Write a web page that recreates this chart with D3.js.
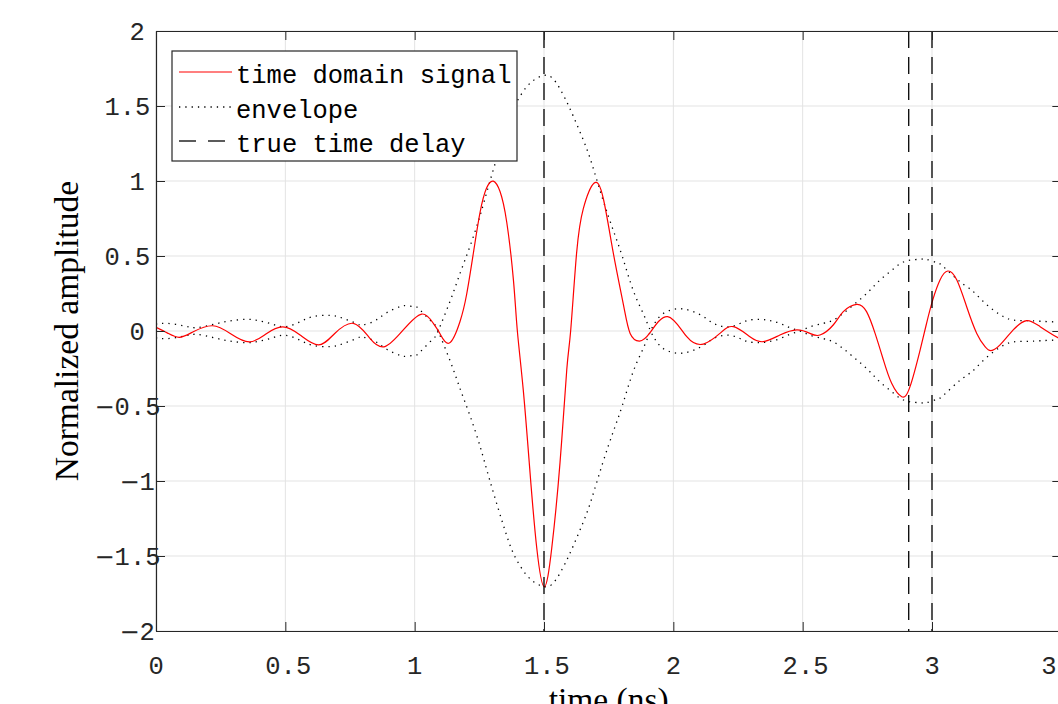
<!DOCTYPE html>
<html><head><meta charset="utf-8">
<script src="https://cdn.jsdelivr.net/npm/d3@7"></script>
<style>body{margin:0;background:#fff;} svg{display:block;}</style>
</head><body>
<svg id="chart" width="1058" height="704"></svg>
<script>
// ---- data ----
const signalT = [0,0.045,0.09,0.144,0.219,0.29,0.361,0.425,0.49,0.557,0.628,0.69,0.763,0.827,0.885,0.956,1.027,1.072,1.098,1.134,1.175,1.201,1.227,1.253,1.278,1.304,1.33,1.356,1.382,1.397,1.42,1.446,1.472,1.501,1.53,1.562,1.588,1.603,1.626,1.652,1.693,1.729,1.768,1.807,1.833,1.869,1.91,1.978,2.052,2.116,2.18,2.232,2.296,2.348,2.412,2.477,2.528,2.567,2.618,2.657,2.709,2.747,2.78,2.812,2.844,2.883,2.915,2.954,2.979,3.003,3.031,3.061,3.096,3.134,3.173,3.205,3.228,3.263,3.314,3.366,3.418,3.487,3.5];
const signalY = [0.025,-0.014,-0.042,-0.005,0.035,-0.02,-0.073,-0.02,0.027,-0.027,-0.093,-0.018,0.051,-0.049,-0.104,0.007,0.113,0.051,-0.018,-0.08,0.062,0.245,0.52,0.793,0.953,0.999,0.93,0.725,0.336,0.0,-0.396,-0.944,-1.447,-1.705,-1.447,-0.876,-0.258,0.0,0.519,0.816,0.985,0.885,0.519,0.176,-0.016,-0.067,-0.011,0.096,-0.038,-0.087,-0.016,0.029,-0.038,-0.071,-0.027,0.007,-0.016,-0.027,0.04,0.129,0.178,0.129,-0.016,-0.193,-0.349,-0.438,-0.371,-0.127,0.051,0.207,0.34,0.4,0.34,0.162,-0.016,-0.104,-0.131,-0.093,0.007,0.069,0.029,-0.045,-0.052];

const envelopeT = [0,0.041,0.106,0.157,0.222,0.286,0.351,0.402,0.453,0.5,0.557,0.608,0.673,0.724,0.776,0.8,0.847,0.892,0.943,0.969,1.001,1.021,1.072,1.091,1.137,1.175,1.214,1.253,1.291,1.356,1.394,1.433,1.472,1.504,1.53,1.56,1.59,1.613,1.652,1.684,1.727,1.768,1.804,1.845,1.884,1.912,1.936,1.962,2.0,2.039,2.077,2.116,2.155,2.2,2.245,2.284,2.335,2.374,2.412,2.451,2.49,2.53,2.58,2.619,2.657,2.696,2.734,2.767,2.799,2.838,2.876,2.915,2.954,2.979,3.018,3.044,3.108,3.153,3.192,3.237,3.276,3.314,3.366,3.418,3.487,3.5];
const envelopeY = [-0.046,-0.051,-0.035,-0.022,-0.044,-0.067,-0.078,-0.067,-0.044,-0.028,-0.062,-0.096,-0.104,-0.084,-0.049,-0.04,-0.069,-0.122,-0.162,-0.169,-0.162,-0.14,-0.051,0,0.199,0.382,0.565,0.77,0.999,1.365,1.525,1.628,1.685,1.705,1.69,1.62,1.52,1.433,1.273,1.12,0.88,0.67,0.49,0.27,0.115,0,-0.073,-0.118,-0.144,-0.147,-0.129,-0.096,-0.051,-0.028,-0.04,-0.069,-0.078,-0.069,-0.051,-0.022,0,0.029,0.051,0.073,0.118,0.173,0.229,0.284,0.34,0.396,0.447,0.473,0.478,0.478,0.456,0.429,0.329,0.273,0.207,0.14,0.096,0.073,0.069,0.065,0.06,0.06];

const delayTimes = [1.5, 2.91, 3.0];

const xTicks = [0,0.5,1,1.5,2,2.5,3,3.5];
const xTickLabels = ["0","0.5","1","1.5","2","2.5","3","3.5"];
const yTicks = [-2,-1.5,-1,-0.5,0,0.5,1,1.5,2];
const yTickLabels = ["−2","−1.5","−1","−0.5","0","0.5","1","1.5","2"];

const legendLabels = ["time domain signal","envelope","true time delay"];
const xLabel = "time (ns)";
const yLabel = "Normalized amplitude";

// ---- layout ----
const L = 156, T = 31, unitX = 776/3;
const R = L + 3.5*unitX, B = 631;
const axisColor = "#262626", gridColor = "#e3e3e3";
const monoFont = "'Liberation Mono','Courier New',monospace";
const serifFont = "'Liberation Serif','Times New Roman',serif";

const svg = d3.select("#chart");
const x = d3.scaleLinear().domain([0,3.5]).range([L,R]);
const y = d3.scaleLinear().domain([-2,2]).range([B,T]);

svg.append("defs").append("clipPath").attr("id","clip")
  .append("rect").attr("x",L).attr("y",T).attr("width",R-L).attr("height",B-T);

// grid
const grid = svg.append("g");
grid.selectAll("line.gx").data(xTicks).join("line")
  .attr("x1",d=>x(d)).attr("x2",d=>x(d)).attr("y1",T).attr("y2",B)
  .attr("stroke",gridColor).attr("stroke-width",1);
grid.selectAll("line.gy").data(yTicks).join("line")
  .attr("x1",L).attr("x2",R).attr("y1",d=>y(d)).attr("y2",d=>y(d))
  .attr("stroke",gridColor).attr("stroke-width",1);

const plot = svg.append("g").attr("clip-path","url(#clip)");

const envData = envelopeT.map((t,i)=>({t, v: envelopeY[i]}));
const sigData = signalT.map((t,i)=>({t, v: signalY[i]}));

const curve = d3.curveNatural;
const lineGen = d3.line().x(d=>x(d.t)).y(d=>y(d.v)).curve(curve);
const negGen = d3.line().x(d=>x(d.t)).y(d=>y(-d.v)).curve(curve);

const dotStyle = sel => sel.attr("fill","none").attr("stroke","#000")
  .attr("stroke-width",1.3).attr("stroke-dasharray","1.3,5");

plot.append("path").datum(envData).attr("d",lineGen).call(dotStyle);
plot.append("path").datum(envData).attr("d",negGen).call(dotStyle);

plot.append("path").datum(sigData).attr("d",lineGen)
  .attr("fill","none").attr("stroke","#ff0000").attr("stroke-width",1.2);

plot.selectAll("line.delay").data(delayTimes).join("line")
  .attr("x1",d=>x(d)).attr("x2",d=>x(d)).attr("y1",T).attr("y2",B)
  .attr("stroke","#000").attr("stroke-width",1.3).attr("stroke-dasharray","17,9");

// axes (inward ticks, box)
function styleAxis(g){
  g.selectAll("path").attr("stroke",axisColor).attr("stroke-width",1.2);
  g.selectAll("line").attr("stroke",axisColor).attr("stroke-width",1);
  g.selectAll("text").remove();
}
svg.append("g").attr("transform",`translate(0,${B})`)
  .call(d3.axisBottom(x).tickValues(xTicks).tickSizeInner(-9).tickSizeOuter(0)).call(styleAxis);
svg.append("g").attr("transform",`translate(0,${T})`)
  .call(d3.axisTop(x).tickValues(xTicks).tickSizeInner(-9).tickSizeOuter(0)).call(styleAxis);
svg.append("g").attr("transform",`translate(${L},0)`)
  .call(d3.axisLeft(y).tickValues(yTicks).tickSizeInner(-9).tickSizeOuter(0)).call(styleAxis);
svg.append("g").attr("transform",`translate(${R},0)`)
  .call(d3.axisRight(y).tickValues(yTicks).tickSizeInner(-9).tickSizeOuter(0)).call(styleAxis);

// tick labels (measured-width model like the original renderer)
const mw = s => Array.from(s).reduce((a,c)=>a+(c==="−"?10:12.5),0);
function addLabel(g, s, xStart, yBase){
  const t = g.append("text").attr("x",xStart).attr("y",yBase)
    .attr("font-family",monoFont).attr("font-size",25.5).attr("fill",axisColor);
  if (s.startsWith("−")) {
    t.append("tspan").attr("font-family","'DejaVu Sans',sans-serif").attr("font-size",24).text("−");
    t.append("tspan").attr("dx",0).text(s.slice(1));
  } else t.text(s);
}
const lab = svg.append("g");
xTicks.forEach((v,i)=>{
  const s = xTickLabels[i];
  addLabel(lab, s, x(v) - mw(s)/2 - 1.3, 674);
});
yTicks.forEach((v,i)=>{
  const s = yTickLabels[i];
  addLabel(lab, s, 142 - mw(s), y(v) + 9);
});

// axis titles
svg.append("text").attr("transform",`translate(78,${(T+B)/2}) rotate(-90)`)
  .attr("text-anchor","middle").attr("font-family",serifFont).attr("font-size",33.5)
  .attr("fill","#000").text(yLabel);
svg.append("text").attr("x",(L+R)/2).attr("y",711)
  .attr("text-anchor","middle").attr("font-family",serifFont).attr("font-size",33.5)
  .attr("fill","#000").text(xLabel);

// legend
const lg = svg.append("g");
lg.append("rect").attr("x",172).attr("y",51).attr("width",345).attr("height",110)
  .attr("fill","#fff").attr("stroke",axisColor).attr("stroke-width",1.2);
const rowY = [72, 107, 141];
const legendStyles = [
  {stroke:"#ff0000", dash:null, w:1.2},
  {stroke:"#000", dash:"1.3,5", w:1.3},
  {stroke:"#262626", dash:"17,12", w:1.3}
];
legendLabels.forEach((s,i)=>{
  const st = legendStyles[i];
  lg.append("line").attr("x1",179).attr("x2",232).attr("y1",rowY[i]).attr("y2",rowY[i])
    .attr("stroke",st.stroke).attr("stroke-width",st.w)
    .attr("stroke-dasharray",st.dash);
  lg.append("text").attr("x",236).attr("y",rowY[i]+11)
    .attr("font-family",monoFont).attr("font-size",25.5).attr("fill","#000").text(s);
});
</script>
</body></html>
